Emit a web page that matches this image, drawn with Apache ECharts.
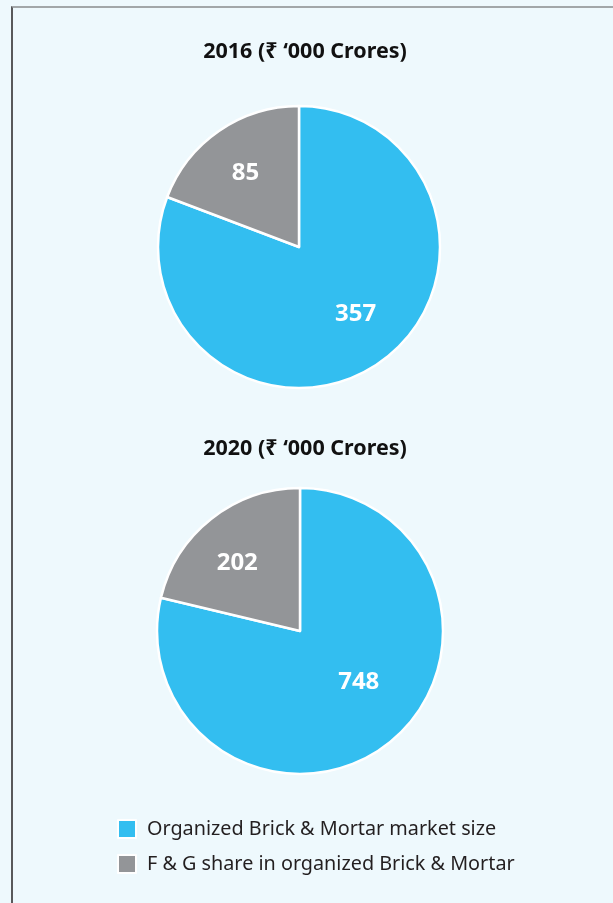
<!DOCTYPE html>
<html>
<head>
<meta charset="utf-8">
<script src="https://cdn.jsdelivr.net/npm/echarts@6/dist/echarts.min.js"></script>
<style type="text/css">
    html, body { margin: 0; padding: 0; background: #eef9fd; }
    #wrap { position: relative; width: 613px; height: 903px; background: #eef9fd; overflow: hidden; }
    #ECharts { position: absolute; left: 0; top: 0; width: 613px; height: 903px; }
    #frame { position: absolute; left: 11px; top: 6px; width: 640px; height: 960px;
             border-top: 2px solid #a2a7a9; border-left: 2px solid #58595b; pointer-events: none; }
</style>
</head>
<body>
<div id="wrap">
    <div id="frame"></div>
    <div id="ECharts"></div>
</div>
<script type="text/javascript">
    // series names and values
    var names = ['Organized Brick & Mortar market size', 'F & G share in organized Brick & Mortar'];
    var titles = ['2016 (\u20B9 \u2018000 Crores)', '2020 (\u20B9 \u2018000 Crores)'];
    var values2016 = [357, 85];
    var values2020 = [748, 202];
    var colors = ['#33bef0', '#939598'];
    // small nudges of the value labels, the original places them by hand
    var labelNudge2016 = [[6, -6], [-3, -1]];
    var labelNudge2020 = [[3, -19], [-7, 3]];

    function pieData(vals, nudge) {
        var out = [];
        for (var i = 0; i < vals.length; i++) {
            var d = { name: names[i], value: vals[i] };
            if (nudge) d.label = { offset: nudge[i] };
            out.push(d);
        }
        return out;
    }

    function pieSeries(vals, nudge, center, r) {
        return [{
            type: 'pie',
            center: center,
            radius: r,
            startAngle: 90,
            silent: true,
            avoidLabelOverlap: false,
            label: { show: false },
            labelLine: { show: false },
            itemStyle: { borderColor: '#ffffff', borderWidth: 2.5 },
            data: pieData(vals)
        }, {
            // transparent ring only to place the value labels
            type: 'pie',
            center: center,
            radius: [Math.round(r * 0.22), r],
            startAngle: 90,
            silent: true,
            avoidLabelOverlap: false,
            itemStyle: { color: 'transparent', borderWidth: 0 },
            label: {
                show: true,
                position: 'inside',
                formatter: '{c}',
                color: '#ffffff',
                fontFamily: 'Noto Sans',
                fontWeight: 'bold',
                fontSize: 24
            },
            labelLine: { show: false },
            data: pieData(vals, nudge)
        }];
    }

    var myChart = echarts.init(document.getElementById('ECharts'));
    var option = {
        animation: false,
        color: colors,
        title: [{
            text: titles[0],
            left: 300,
            top: 36,
            textAlign: 'center',
            textStyle: { fontFamily: 'Noto Sans', fontWeight: 'bold', fontSize: 21.5, color: '#111111' }
        }, {
            text: titles[1],
            left: 300,
            top: 433,
            textAlign: 'center',
            textStyle: { fontFamily: 'Noto Sans', fontWeight: 'bold', fontSize: 21.5, color: '#111111' }
        }],
        legend: {
            orient: 'vertical',
            left: 112,
            top: 814,
            itemWidth: 18,
            itemHeight: 18,
            itemGap: 15,
            icon: 'rect',
            selectedMode: false,
            textStyle: { fontFamily: 'Noto Sans', fontSize: 19.8, lineHeight: 18, color: '#231f20', padding: [0, 0, 0, 6] },
            data: [
                { name: names[0], itemStyle: { color: colors[0] } },
                { name: names[1], itemStyle: { color: colors[1] } }
            ]
        },
        series: pieSeries(values2016, labelNudge2016, [299, 247], 141)
            .concat(pieSeries(values2020, labelNudge2020, [300, 631], 143))
    };
    myChart.setOption(option);
</script>
</body>
</html>
